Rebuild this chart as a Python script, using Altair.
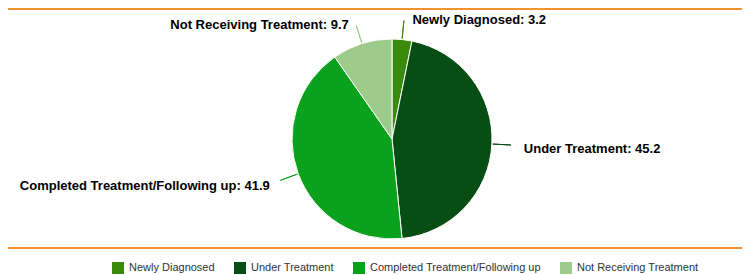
import altair as alt
import pandas as pd

categories = ["Newly Diagnosed", "Under Treatment", "Completed Treatment/Following up", "Not Receiving Treatment"]
values = [3.2, 45.2, 41.9, 9.7]
colors = ["#3a8a0c", "#064e14", "#0aa21c", "#9dcb89"]

df = pd.DataFrame({"category": categories, "value": values, "order": list(range(len(categories)))})
total = float(sum(values))

W, H = 734, 267
CX, CY = 384, 131
R = 100

color_scale = alt.Scale(domain=categories, range=colors)
theta_scale = alt.Scale(domain=[0, total], range=[0, 6.283185307179586])

base = alt.Chart(df).transform_window(
    cum="sum(value)", sort=[alt.SortField("order")], frame=[None, 0]
).transform_calculate(
    start="datum.cum - datum.value",
    mid="datum.cum - datum.value / 2",
    label="datum.category + ': ' + format(datum.value, '.1f')",
)

pie = base.mark_arc(stroke="white", strokeWidth=1).encode(
    theta=alt.Theta("start:Q", scale=theta_scale),
    theta2="cum:Q",
    radius=alt.value(R),
    x=alt.value(CX),
    y=alt.value(CY),
    color=alt.Color(
        "category:N",
        scale=color_scale,
        legend=alt.Legend(
            title=None,
            orient="none",
            direction="horizontal",
            legendX=104,
            legendY=254,
            symbolType="square",
            symbolSize=144,
            symbolStrokeWidth=0,
            labelFont="Liberation Sans",
            labelFontSize=11,
            labelColor="#333333",
            labelOffset=5,
            columnPadding=19,
            labelLimit=400,
        ),
    ),
    order=alt.Order("order:Q"),
)

leaders = base.mark_arc(filled=False, strokeWidth=1).encode(
    theta=alt.Theta("mid:Q", scale=theta_scale),
    theta2="mid:Q",
    radius=alt.value(R + 1),
    radius2=alt.value(R + 19),
    x=alt.value(CX),
    y=alt.value(CY),
    stroke=alt.Stroke("category:N", scale=color_scale, legend=None),
)

text_common = dict(font="Liberation Sans", fontSize=13, fontWeight="bold", color="#000000", baseline="middle", dy=4)

labels_right = base.transform_filter("datum.mid < " + str(total / 2)).mark_text(
    align="left", dx=8, **text_common
).encode(
    theta=alt.Theta("mid:Q", scale=theta_scale),
    radius=alt.value(R + 24),
    x=alt.value(CX),
    y=alt.value(CY),
    text="label:N",
)

labels_left = base.transform_filter("datum.mid >= " + str(total / 2)).mark_text(
    align="right", dx=-6, **text_common
).encode(
    theta=alt.Theta("mid:Q", scale=theta_scale),
    radius=alt.value(R + 24),
    x=alt.value(CX),
    y=alt.value(CY),
    text="label:N",
)

top_line = alt.Chart(df).mark_rule(color="#f0922f", strokeWidth=2).encode(
    x=alt.value(0), x2=alt.value(W), y=alt.value(1)
)
bottom_line = alt.Chart(df).mark_rule(color="#f0922f", strokeWidth=2).encode(
    x=alt.value(0), x2=alt.value(W), y=alt.value(240)
)

chart = alt.layer(top_line, bottom_line, pie, leaders, labels_right, labels_left).properties(
    width=W, height=H, autosize=alt.AutoSizeParams(type="none"), padding=0
).configure_view(stroke=None)

chart.save("out.html", embed_options={"renderer": "svg", "actions": False})
